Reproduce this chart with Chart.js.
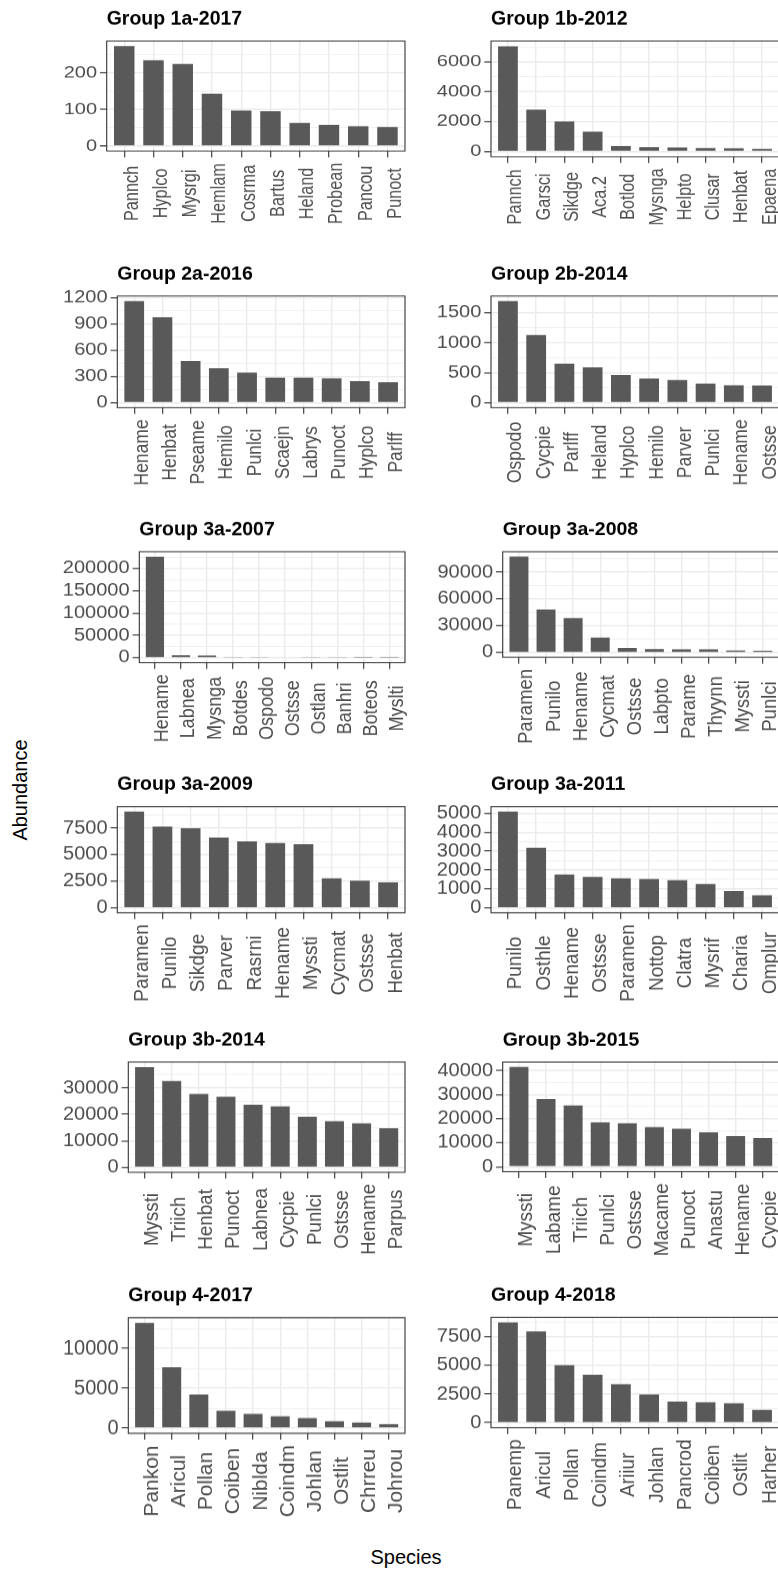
<!DOCTYPE html>
<html>
<head>
<meta charset="utf-8">
<script src="https://cdn.jsdelivr.net/npm/chart.js@4.4.1/dist/chart.umd.min.js"></script>
<style>
  html, body { margin:0; padding:0; background:#fff; overflow:hidden; }
  #page { position:relative; width:778px; height:1570px; overflow:hidden; background:#fff; }
  #page canvas { position:absolute; }
  .axis-title { position:absolute; font-family:"Liberation Sans", Arial, sans-serif; font-size:20px; line-height:20px; color:#000; white-space:nowrap; }
  #yTitle { left:20px; top:790px; transform:translate(-50%,-50%) rotate(-90deg); }
  #xTitle { left:406px; top:1557px; transform:translate(-50%,-50%); }
</style>
</head>
<body>
<div id="page">
  <div id="yTitle" class="axis-title">Abundance</div>
  <div id="xTitle" class="axis-title">Species</div>
</div>
<script>
// ---- data, one set per panel ----
const g1a2017Species = ['Pannch','Hyplco','Mysrgi','Hemlam','Cosrma','Bartus','Heland','Probean','Pancou','Punoct'];
const g1a2017Abund   = [273, 234, 224, 143, 97, 95, 63, 58, 54, 52];
const g1a2017Ticks   = [0, 100, 200];

const g1b2012Species = ['Pannch','Garsci','Sikdge','Aca.2','Botlod','Mysnga','Helpto','Clusar','Henbat','Epaena'];
const g1b2012Abund   = [7030, 2800, 2010, 1320, 360, 290, 270, 230, 215, 170];
const g1b2012Ticks   = [0, 2000, 4000, 6000];

const g2a2016Species = ['Hename','Henbat','Pseame','Hemilo','Punlci','Scaejn','Labrys','Punoct','Hyplco','Parlff'];
const g2a2016Abund   = [1162, 976, 477, 393, 343, 286, 286, 279, 245, 233];
const g2a2016Ticks   = [0, 300, 600, 900, 1200];

const g2b2014Species = ['Ospodo','Cycpie','Parlff','Heland','Hyplco','Hemilo','Parver','Punlci','Hename','Ostsse'];
const g2b2014Abund   = [1694, 1130, 652, 590, 462, 401, 378, 318, 289, 286];
const g2b2014Ticks   = [0, 500, 1000, 1500];

const g3a2007Species = ['Hename','Labnea','Mysnga','Botdes','Ospodo','Ostsse','Ostlan','Banhri','Boteos','Myslti'];
const g3a2007Abund   = [226100, 5200, 5000, 2100, 1900, 1200, 1100, 900, 600, 500];
const g3a2007Ticks   = [0, 50000, 100000, 150000, 200000];

const g3a2008Species = ['Paramen','Punilo','Hename','Cycmat','Ostsse','Labpto','Parame','Thyynn','Myssti','Punlci'];
const g3a2008Abund   = [107400, 48200, 38500, 16700, 5200, 3800, 3700, 3600, 2200, 2000];
const g3a2008Ticks   = [0, 30000, 60000, 90000];

const g3a2009Species = ['Paramen','Punilo','Sikdge','Parver','Rasrni','Hename','Myssti','Cycmat','Ostsse','Henbat'];
const g3a2009Abund   = [9055, 7650, 7490, 6620, 6245, 6086, 5993, 2781, 2566, 2406];
const g3a2009Ticks   = [0, 2500, 5000, 7500];

const g3a2011Species = ['Punilo','Osthle','Hename','Ostsse','Paramen','Nottop','Clatra','Mysrif','Charia','Omplur'];
const g3a2011Abund   = [5089, 3179, 1758, 1632, 1563, 1526, 1458, 1263, 895, 668];
const g3a2011Ticks   = [0, 1000, 2000, 3000, 4000, 5000];

const g3b2014Species = ['Myssti','Triich','Henbat','Punoct','Labnea','Cycpie','Punlci','Ostsse','Hename','Parpus'];
const g3b2014Abund   = [37875, 32625, 27750, 26625, 23625, 23025, 19125, 17400, 16650, 14775];
const g3b2014Ticks   = [0, 10000, 20000, 30000];

const g3b2015Species = ['Myssti','Labame','Triich','Punlci','Ostsse','Macame','Punoct','Anastu','Hename','Cycpie'];
const g3b2015Abund   = [41450, 28100, 25500, 18470, 18060, 16530, 15830, 14340, 12690, 11980];
const g3b2015Ticks   = [0, 10000, 20000, 30000, 40000];

const g42017Species  = ['Pankon','Aricul','Pollan','Coiben','Niblda','Coindm','Johlan','Ostlit','Chrreu','Johrou'];
const g42017Abund    = [13190, 7640, 4218, 2184, 1774, 1489, 1240, 868, 695, 496];
const g42017Ticks    = [0, 5000, 10000];

const g42018Species  = ['Panemp','Aricul','Pollan','Coindm','Ariiur','Johlan','Pancrod','Coiben','Ostlit','Harher'];
const g42018Abund    = [8729, 7930, 5009, 4175, 3350, 2457, 1830, 1770, 1684, 1117];
const g42018Ticks    = [0, 2500, 5000, 7500];

// ---- layout: plot box [left, top, right, bottom] in page px, sy = vertical squeeze of the panel ----
const panels = [
  { title:'Group 1a-2017', species:g1a2017Species, values:g1a2017Abund, ticks:g1a2017Ticks, col:0,   box:[106.7, 41, 405, 151],        sy:0.815 },
  { title:'Group 1b-2012', species:g1b2012Species, values:g1b2012Abund, ticks:g1b2012Ticks, col:400, box:[491, 41, 779, 156.7],        sy:0.815 },
  { title:'Group 2a-2016', species:g2a2016Species, values:g2a2016Abund, ticks:g2a2016Ticks, col:0,   box:[117.3, 296, 405, 407.7],     sy:0.875 },
  { title:'Group 2b-2014', species:g2b2014Species, values:g2b2014Abund, ticks:g2b2014Ticks, col:400, box:[491, 296, 779, 407.7],       sy:0.875 },
  { title:'Group 3a-2007', species:g3a2007Species, values:g3a2007Abund, ticks:g3a2007Ticks, col:0,   box:[139.3, 551.7, 405, 662.7],   sy:0.9 },
  { title:'Group 3a-2008', species:g3a2008Species, values:g3a2008Abund, ticks:g3a2008Ticks, col:400, box:[502.7, 551.7, 779, 657.3],   sy:0.925 },
  { title:'Group 3a-2009', species:g3a2009Species, values:g3a2009Abund, ticks:g3a2009Ticks, col:0,   box:[117.3, 806.7, 405, 912.7],   sy:0.955 },
  { title:'Group 3a-2011', species:g3a2011Species, values:g3a2011Abund, ticks:g3a2011Ticks, col:400, box:[491, 806.7, 779, 912.7],     sy:0.955 },
  { title:'Group 3b-2014', species:g3b2014Species, values:g3b2014Abund, ticks:g3b2014Ticks, col:0,   box:[128.3, 1062, 405, 1172.3],   sy:0.94 },
  { title:'Group 3b-2015', species:g3b2015Species, values:g3b2015Abund, ticks:g3b2015Ticks, col:400, box:[502.7, 1062, 779, 1171.7],   sy:0.95 },
  { title:'Group 4-2017',  species:g42017Species,  values:g42017Abund,  ticks:g42017Ticks,  col:0,   box:[128.3, 1317.7, 405, 1433.3], sy:1.05 },
  { title:'Group 4-2018',  species:g42018Species,  values:g42018Abund,  ticks:g42018Ticks,  col:400, box:[491, 1317.3, 779, 1427.7],   sy:0.95 }
];

const FONT = '"Liberation Sans", Arial, Helvetica, sans-serif';
const GRID = '#EBEBEB';
const DARK = '#333333';
const TEXT = '#4D4D4D';
const X_TICK_LEN = 6.3;   // page px
const X_LABEL_GAP = 5.3;  // page px
const X_LABEL_DX = 8;
const TITLE_GAP = 16.7;

// ggplot-style minor breaks: midpoints between majors, kept inside the range
function minorBreaks(major, lo, hi){
  const step = major[1] - major[0];
  const out = [];
  for(let v = major[0] - step/2; v <= major[major.length-1] + step/2 + 1e-9; v += step){
    if(v >= lo && v <= hi) out.push(v);
  }
  return out;
}

// frame + left-aligned title over the panel
function panelDecor(title, sy){
  return {
    id: 'panelDecor',
    afterDatasetsDraw(chart){
      const a = chart.chartArea, ctx = chart.ctx;
      ctx.save();
      ctx.strokeStyle = DARK;
      ctx.lineWidth = 1.1;
      ctx.strokeRect(a.left, a.top, a.right - a.left, a.bottom - a.top);
      ctx.restore();
    },
    afterDraw(chart){
      const a = chart.chartArea, ctx = chart.ctx;
      ctx.save();
      ctx.translate(a.left, a.top - TITLE_GAP / sy);
      ctx.scale(1, 1 / sy);
      ctx.font = 'bold 19.5px ' + FONT;
      ctx.fillStyle = '#000';
      ctx.textAlign = 'left';
      ctx.textBaseline = 'alphabetic';
      ctx.fillText(title, 0, 0);
      ctx.restore();
    }
  };
}

// rotated species labels: centred in the label strip, like ggplot
function centerXLabels(sy){
  return {
    id: 'centerXLabels',
    beforeDraw(chart){
      const sc = chart.scales.x;
      const items = sc.getLabelItems();
      const ctx = chart.ctx;
      ctx.save();
      let maxW = 0;
      items.forEach(it => {
        ctx.font = it.font.string;
        maxW = Math.max(maxW, ctx.measureText(it.label).width);
      });
      ctx.restore();
      const cy = chart.chartArea.bottom + (X_TICK_LEN + X_LABEL_GAP) / sy + maxW / 2;
      items.forEach((it, i) => {
        it.textOffset = 0;
        it.options.textAlign = 'center';
        it.options.textBaseline = 'middle';
        it.options.translation = [sc.getPixelForTick(i) + X_LABEL_DX, cy];
      });
    }
  };
}

const page = document.getElementById('page');

panels.forEach(p => {
  const [l, t, r, b] = p.box;
  const cLeft = p.col;
  const cTop = Math.floor(t) - 40;
  const cW = Math.ceil(r - cLeft) + 20;
  const cH = Math.ceil(b - cTop) + 100;
  const iH = Math.round(cH / p.sy);
  const sy = cH / iH;   // effective vertical squeeze

  const canvas = document.createElement('canvas');
  canvas.width = cW;
  canvas.height = iH;
  canvas.style.left = cLeft + 'px';
  canvas.style.top = cTop + 'px';
  canvas.style.width = cW + 'px';
  canvas.style.height = cH + 'px';
  page.appendChild(canvas);

  const yMax = Math.max(...p.values);
  const yLo = -0.05 * yMax, yHi = 1.05 * yMax;
  const minors = minorBreaks(p.ticks, yLo, yHi);

  new Chart(canvas, {
    type: 'bar',
    data: {
      datasets: [{
        data: p.values.map((v, i) => ({ x: i, y: v })),
        backgroundColor: '#595959',
        borderWidth: 0,
        barPercentage: 0.7,
        categoryPercentage: 1
      }]
    },
    options: {
      responsive: false,
      animation: false,
      devicePixelRatio: 1,
      layout: { padding: { left: 0, top: (t - cTop) / sy, right: cLeft + cW - r, bottom: 0 } },
      plugins: { legend: { display: false }, tooltip: { enabled: false }, title: { display: false } },
      scales: {
        x: {
          type: 'linear',
          offset: false,
          bounds: 'data',
          min: -0.6,
          max: p.species.length - 0.4,
          afterBuildTicks: s => { s.ticks = p.species.map((_, i) => ({ value: i })); },
          afterFit: s => { s.height = iH - (b - cTop) / sy; },
          grid: { offset: false, color: GRID, lineWidth: 1.4, drawTicks: true, tickLength: X_TICK_LEN / sy, tickColor: DARK, tickWidth: 1.1 },
          border: { display: false },
          ticks: {
            autoSkip: false, minRotation: 90, maxRotation: 90, padding: 0,
            color: TEXT, font: { family: FONT, size: 20 },
            callback: v => p.species[v]
          }
        },
        y: {
          type: 'linear',
          bounds: 'data',
          beginAtZero: false,
          min: yLo,
          max: yHi,
          afterBuildTicks: s => {
            s.ticks = p.ticks.map(v => ({ value: v }))
              .concat(minors.map(v => ({ value: v, minor: true })))
              .sort((a, c) => a.value - c.value);
          },
          afterFit: s => { s.width = l - cLeft; },
          grid: {
            color: GRID,
            lineWidth: c => ((c.tick && c.tick.minor) ? 0.7 : 1.4) / sy,
            drawTicks: true,
            tickLength: 6.7,
            tickColor: c => (c.tick && c.tick.minor) ? 'rgba(0,0,0,0)' : DARK,
            tickWidth: 1.1 / sy
          },
          border: { display: false },
          ticks: {
            autoSkip: false, padding: 3,
            color: TEXT, font: { family: FONT, size: 20 },
            callback: v => p.ticks.includes(v) ? String(v) : ''
          }
        }
      }
    },
    plugins: [panelDecor(p.title, sy), centerXLabels(sy)]
  });
});
</script>
</body>
</html>
